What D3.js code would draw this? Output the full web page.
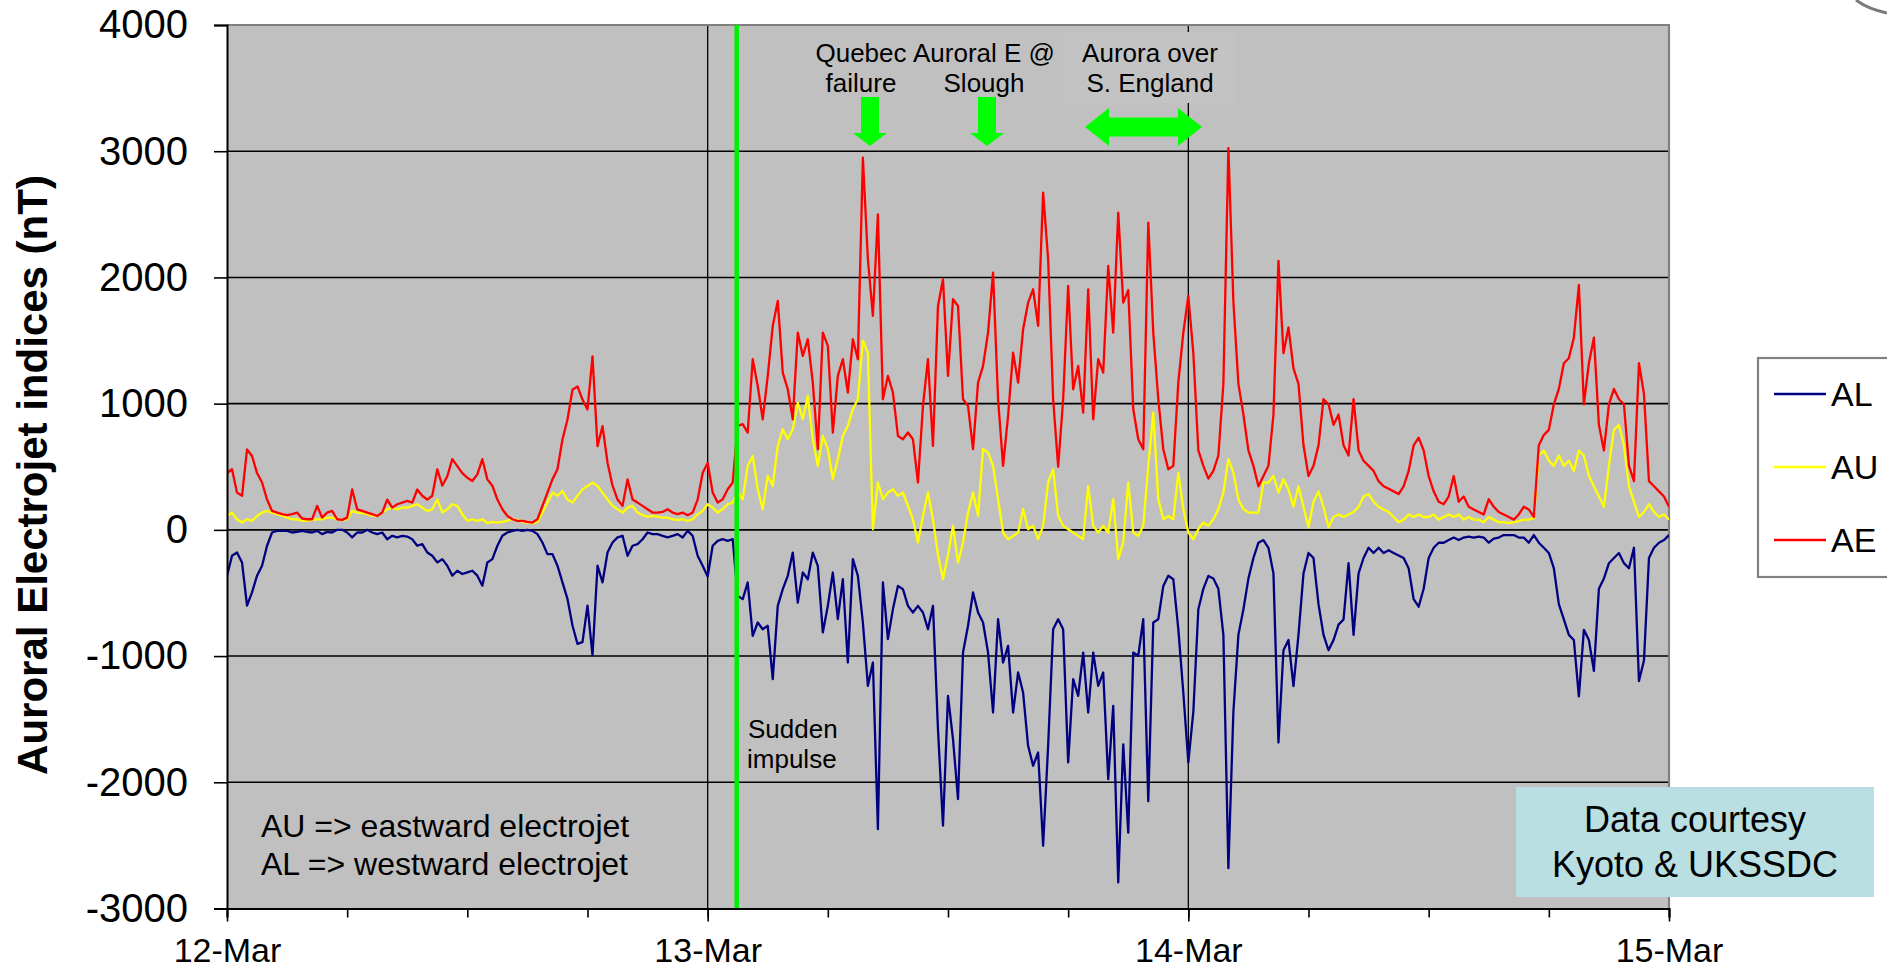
<!DOCTYPE html>
<html>
<head>
<meta charset="utf-8">
<script src="https://cdn.jsdelivr.net/npm/d3@7"></script>
<style>
  html, body { margin: 0; padding: 0; background: #ffffff; }
  svg { display: block; }
  text { font-family: "Liberation Sans", Arial, Helvetica, sans-serif; fill: #000; }
</style>
</head>
<body>
<svg id="chart" width="1887" height="970"></svg>
<script>
// ---------------- DATA (15-minute samples from 12-Mar 00:00 UT to 15-Mar 00:00 UT) ----------------
const startUTC = Date.UTC(1989, 2, 12, 0, 0);
const stepMinutes = 15;

const AE = [
  // 12-Mar
  450, 480, 295, 270, 637, 585, 450, 375,
  240, 150, 137, 124, 116, 124, 137, 90,
  84, 84, 190, 97, 137, 150, 84, 79,
  97, 320, 163, 150, 137, 124, 110, 137,
  240, 176, 203, 216, 229, 216, 320, 270,
  240, 270, 480, 350, 425, 560, 505, 450,
  413, 387, 440, 560, 400, 350, 240, 163,
  110, 84, 71, 71, 63, 58, 84, 190,
  295, 400, 480, 716, 874, 1110, 1137, 1032,
  953, 1374, 663, 821, 532, 350, 240, 190,
  400, 240, 216, 190, 163, 137, 137, 142,
  163, 137, 124, 137, 116, 137, 240, 450,
  // 13-Mar
  530, 296, 216, 243, 322, 375, 824, 837,
  771, 1352, 1140, 876, 1220, 1616, 1814, 1246,
  1114, 876, 1563, 1378, 1510, 1167, 639, 1563,
  1457, 771, 1220, 1352, 1088, 1510, 1352, 2949,
  2144, 1695, 2500, 1035, 1220, 1088, 744, 718,
  771, 718, 375, 982, 1352, 665, 1774, 1985,
  1220, 1827, 1774, 1035, 982, 639, 1167, 1299,
  1563, 2038, 1035, 507, 903, 1404, 1167, 1589,
  1800, 1906, 1616, 2672, 2144, 1035, 500, 1035,
  1932, 1114, 1299, 929, 1906, 876, 1352, 1246,
  2091, 1563, 2513, 1800, 1900, 956, 718, 639,
  2434, 1563, 1035, 639, 480, 507, 1167, 1563,
  // 14-Mar
  1853, 1400, 629, 507, 406, 467, 589, 1157,
  3025, 1807, 1157, 914, 629, 507, 345, 426,
  507, 914, 2131, 1400, 1604, 1279, 1157, 670,
  426, 507, 670, 1035, 995, 832, 914, 670,
  589, 1035, 629, 548, 507, 467, 386, 345,
  325, 305, 284, 345, 467, 670, 731, 629,
  426, 305, 223, 203, 264, 426, 223, 264,
  183, 162, 142, 122, 244, 183, 142, 122,
  102, 81, 122, 183, 162, 102, 670, 751,
  792, 995, 1117, 1320, 1360, 1523, 1940, 995,
  1320, 1523, 832, 629, 995, 1117, 1035, 995,
  507, 386, 1320, 1076, 386, 345, 305, 264,
  // 15-Mar 00:00
  183
];

const AU = [
  // 12-Mar
  110, 137, 84, 58, 84, 71, 110, 137,
  150, 137, 124, 110, 97, 84, 84, 71,
  71, 79, 84, 84, 97, 97, 84, 79,
  84, 150, 137, 132, 124, 110, 110, 137,
  163, 176, 163, 176, 176, 190, 203, 176,
  150, 163, 240, 137, 163, 203, 190, 124,
  71, 84, 71, 84, 53, 63, 58, 63,
  74, 84, 79, 63, 58, 53, 63, 137,
  216, 295, 270, 308, 240, 216, 270, 321,
  347, 374, 347, 295, 240, 190, 163, 137,
  176, 190, 137, 116, 105, 110, 105, 97,
  97, 84, 79, 84, 71, 84, 124, 150,
  // 13-Mar
  203, 177, 137, 164, 203, 216, 296, 243,
  507, 586, 322, 164, 428, 348, 665, 797,
  718, 797, 1008, 876, 1061, 718, 507, 744,
  639, 401, 560, 744, 824, 956, 1035, 1500,
  1400, 5, 375, 243, 296, 322, 269, 296,
  190, 84, -100, 111, 296, 84, -200, -390,
  -200, 32, -260, -100, 137, 296, 111, 639,
  612, 507, 243, -21, -74, -48, -21, 164,
  5, 32, -74, 32, 375, 480, 111, 32,
  5, -21, -48, -74, 348, 32, -21, 32,
  -21, 243, -232, -100, 375, -21, -48, 32,
  507, 929, 243, 84, 111, 84, 454, 164,
  // 14-Mar
  -21, -74, 5, 58, 32, 84, 164, 296,
  560, 454, 243, 164, 137, 137, 137, 375,
  375, 428, 296, 401, 322, 183, 345, 183,
  20, 223, 305, 183, 20, 102, 122, 102,
  122, 142, 183, 264, 284, 223, 183, 162,
  142, 102, 61, 81, 122, 102, 122, 102,
  102, 122, 81, 102, 122, 102, 122, 81,
  102, 81, 81, 61, 102, 81, 61, 61,
  53, 61, 69, 81, 81, 93, 589, 629,
  548, 507, 589, 507, 548, 467, 629, 589,
  426, 345, 264, 183, 507, 792, 832, 670,
  345, 223, 102, 142, 203, 142, 102, 122,
  // 15-Mar 00:00
  81
];

const AL = [
  // 12-Mar
  -363, -205, -179, -258, -600, -495, -363, -284,
  -126, -21, -8, -8, -8, -21, -16, -8,
  -16, -21, -8, -34, -16, -21, 0, 0,
  -21, -60, -21, -21, 0, -21, -34, -21,
  -74, -47, -60, -47, -53, -74, -126, -113,
  -179, -205, -258, -232, -284, -363, -324, -350,
  -337, -324, -363, -442, -258, -232, -126, -47,
  -21, -8, 0, -8, 0, -8, -34, -100,
  -192, -192, -284, -416, -547, -758, -903, -890,
  -600, -995, -284, -416, -179, -100, -60, -47,
  -205, -126, -113, -74, -21, -34, -34, -47,
  -60, -47, -34, -60, -8, -47, -205, -284,
  // 13-Mar
  -370, -126, -87, -74, -87, -74, -523, -549,
  -417, -840, -734, -787, -760, -1183, -602, -470,
  -364, -180, -576, -338, -391, -180, -285, -813,
  -602, -338, -708, -391, -1051, -232, -364, -734,
  -1236, -1051, -2371, -417, -866, -628, -444, -470,
  -602, -655, -602, -655, -787, -602, -1579, -2344,
  -1315, -1658, -2133, -972, -760, -496, -655, -734,
  -972, -1447, -708, -1051, -919, -1447, -1130, -1289,
  -1711, -1869, -1764, -2503, -1711, -787, -708, -787,
  -1843, -1183, -1315, -972, -1447, -972, -1236, -1130,
  -1975, -1394, -2793, -1700, -2400, -972, -998, -708,
  -2150, -734, -708, -444, -364, -391, -787, -1289,
  // 14-Mar
  -1843, -1441, -629, -467, -365, -386, -467, -832,
  -2680, -1441, -832, -629, -386, -223, -102, -81,
  -142, -345, -1685, -954, -873, -1238, -832, -345,
  -183, -223, -589, -832, -954, -873, -751, -710,
  -264, -832, -345, -223, -142, -183, -142, -183,
  -162, -183, -203, -223, -304, -548, -609, -467,
  -223, -142, -102, -102, -81, -61, -81, -61,
  -53, -61, -53, -61, -102, -69, -61, -41,
  -41, -41, -61, -61, -102, -41, -102, -142,
  -183, -304, -589, -710, -832, -873, -1320, -792,
  -873, -1117, -467, -386, -264, -223, -183, -264,
  -304, -142, -1198, -1035, -223, -142, -102, -81,
  // 15-Mar 00:00
  -41
];

const seriesNames = ["AL", "AU", "AE"];
const yTickValues = [-3000, -2000, -1000, 0, 1000, 2000, 3000, 4000];
const dayTickLabels = ["12-Mar", "13-Mar", "14-Mar", "15-Mar"];
const suddenImpulseUTC = Date.UTC(1989, 2, 13, 1, 27);

// ---------------- STYLE ----------------
const colors = { AL: "#000080", AU: "#ffff00", AE: "#ff0000" };
const plot = { left: 227, right: 1669, top: 25, bottom: 908.5 };

const svg = d3.select("#chart");

const x = d3.scaleUtc()
  .domain([new Date(startUTC), new Date(startUTC + 3 * 86400000)])
  .range([plot.left, plot.right]);
const y = d3.scaleLinear().domain([-3000, 4000]).range([plot.bottom, plot.top]);

const toPoints = arr => arr.map((v, i) => ({ t: new Date(startUTC + i * stepMinutes * 60000), v }));
const data = { AL: toPoints(AL), AU: toPoints(AU), AE: toPoints(AE) };

// plot background
svg.append("rect")
  .attr("x", plot.left).attr("y", plot.top)
  .attr("width", plot.right - plot.left).attr("height", plot.bottom - plot.top)
  .attr("fill", "#c0c0c0");

// horizontal gridlines
svg.append("g").selectAll("line")
  .data(yTickValues.filter(v => v > -3000 && v < 4000))
  .join("line")
  .attr("x1", plot.left).attr("x2", plot.right)
  .attr("y1", d => y(d)).attr("y2", d => y(d))
  .attr("stroke", "#000").attr("stroke-width", 1.6);

// vertical day gridlines
const dayDates = dayTickLabels.map((_, i) => new Date(startUTC + i * 86400000));
svg.append("g").selectAll("line")
  .data(dayDates.slice(1, 3))
  .join("line")
  .attr("x1", d => x(d)).attr("x2", d => x(d))
  .attr("y1", plot.top).attr("y2", plot.bottom)
  .attr("stroke", "#000").attr("stroke-width", 1.3);

// top & right plot border (gray)
svg.append("path")
  .attr("d", `M${plot.left},${plot.top}H${plot.right}V${plot.bottom}`)
  .attr("fill", "none").attr("stroke", "#808080").attr("stroke-width", 2.2);

// clip
svg.append("clipPath").attr("id", "clip").append("rect")
  .attr("x", plot.left).attr("y", plot.top)
  .attr("width", plot.right - plot.left).attr("height", plot.bottom - plot.top);

const line = d3.line().x(d => x(d.t)).y(d => y(d.v));
const linesG = svg.append("g").attr("clip-path", "url(#clip)");
seriesNames.forEach(name => {
  linesG.append("path")
    .datum(data[name])
    .attr("d", line)
    .attr("fill", "none")
    .attr("stroke", colors[name])
    .attr("stroke-width", 2.3)
    .attr("stroke-linejoin", "round");
});

// Aurora-over box (covers gridline)
svg.append("rect")
  .attr("x", 1065).attr("y", 32).attr("width", 170).attr("height", 71)
  .attr("fill", "#c3c3c3");

// Sudden impulse line
svg.append("line")
  .attr("x1", x(new Date(suddenImpulseUTC))).attr("x2", x(new Date(suddenImpulseUTC)))
  .attr("y1", plot.top).attr("y2", plot.bottom)
  .attr("stroke", "#00ee00").attr("stroke-width", 4.5);

// Y axis
const yAxis = d3.axisLeft(y).tickValues(yTickValues).tickSize(13).tickPadding(26);
const yG = svg.append("g").attr("transform", `translate(${plot.left},0)`).call(yAxis);
yG.select(".domain").attr("stroke", "#000").attr("stroke-width", 2);
yG.selectAll(".tick line").attr("stroke", "#000").attr("stroke-width", 1.6);
yG.selectAll(".tick text")
  .attr("font-size", 40).attr("fill", "#000")
  .attr("font-family", "'Liberation Sans', Arial, sans-serif")
  .text(d => String(d));

// X axis: minor 6-hour ticks and major day ticks
const minorTicks = d3.utcHour.every(6).range(new Date(startUTC), new Date(startUTC + 3 * 86400000 + 1));
const xMinor = d3.axisBottom(x).tickValues(minorTicks).tickSize(9).tickFormat("");
const xMinorG = svg.append("g").attr("transform", `translate(0,${plot.bottom})`).call(xMinor);
xMinorG.selectAll(".tick line").attr("stroke", "#000").attr("stroke-width", 1.6);
xMinorG.select(".domain").attr("stroke", "#000").attr("stroke-width", 2);

const xMajor = d3.axisBottom(x).tickValues(dayDates).tickSize(13)
  .tickFormat((d, i) => dayTickLabels[i]);
const xMajorG = svg.append("g").attr("transform", `translate(0,${plot.bottom})`).call(xMajor);
xMajorG.select(".domain").remove();
xMajorG.selectAll(".tick line").attr("stroke", "#000").attr("stroke-width", 1.6);
xMajorG.selectAll(".tick text")
  .attr("font-size", 34).attr("fill", "#000")
  .attr("font-family", "'Liberation Sans', Arial, sans-serif")
  .attr("y", 962 - plot.bottom).attr("dy", null);

// Y title
svg.append("text")
  .attr("transform", "translate(47,475) rotate(-90)")
  .attr("text-anchor", "middle")
  .attr("font-size", 42).attr("font-weight", "bold")
  .text("Auroral Electrojet indices (nT)");

// Legend
svg.append("rect")
  .attr("x", 1758).attr("y", 358).attr("width", 160).attr("height", 219)
  .attr("fill", "#fff").attr("stroke", "#808080").attr("stroke-width", 2.2);
const legendY = { AL: 394, AU: 467, AE: 540 };
seriesNames.forEach(name => {
  svg.append("line")
    .attr("x1", 1774).attr("x2", 1826)
    .attr("y1", legendY[name]).attr("y2", legendY[name])
    .attr("stroke", colors[name]).attr("stroke-width", 2.5);
  svg.append("text")
    .attr("x", 1831).attr("y", legendY[name]).attr("dy", "0.36em")
    .attr("font-size", 34).text(name);
});

// Annotations (top)
const topNotes = [
  { lines: ["Quebec", "failure"], cx: 861 },
  { lines: ["Auroral E @", "Slough"], cx: 984 },
  { lines: ["Aurora over", "S. England"], cx: 1150 }
];
topNotes.forEach(n => {
  n.lines.forEach((s, i) => {
    svg.append("text")
      .attr("x", n.cx).attr("y", 62 + i * 30)
      .attr("text-anchor", "middle").attr("font-size", 26).text(s);
  });
});

// Green arrows
const green = "#00ff00";
function downArrow(cx) {
  const p = d3.path();
  p.moveTo(cx - 9, 97); p.lineTo(cx + 9, 97); p.lineTo(cx + 9, 133);
  p.lineTo(cx + 17, 133); p.lineTo(cx, 146); p.lineTo(cx - 17, 133);
  p.lineTo(cx - 9, 133); p.closePath();
  svg.append("path").attr("d", p.toString()).attr("fill", green);
}
downArrow(870);
downArrow(987);
(function () {
  const l = 1085, r = 1202, cy = 127, hl = 24, hh = 19, sh = 9.5;
  const p = d3.path();
  p.moveTo(l, cy); p.lineTo(l + hl, cy - hh); p.lineTo(l + hl, cy - sh);
  p.lineTo(r - hl, cy - sh); p.lineTo(r - hl, cy - hh); p.lineTo(r, cy);
  p.lineTo(r - hl, cy + hh); p.lineTo(r - hl, cy + sh); p.lineTo(l + hl, cy + sh);
  p.lineTo(l + hl, cy + hh); p.closePath();
  svg.append("path").attr("d", p.toString()).attr("fill", green);
})();

// Sudden impulse label
svg.append("text").attr("x", 748).attr("y", 738).attr("font-size", 26).text("Sudden");
svg.append("text").attr("x", 747).attr("y", 768).attr("font-size", 26).text("impulse");

// Electrojet notes
svg.append("text").attr("x", 261).attr("y", 837).attr("font-size", 32).text("AU => eastward electrojet");
svg.append("text").attr("x", 261).attr("y", 875).attr("font-size", 32).text("AL => westward electrojet");

// Data courtesy box
svg.append("rect").attr("x", 1516).attr("y", 787).attr("width", 358).attr("height", 110).attr("fill", "#b9dfe3");
svg.append("text").attr("x", 1695).attr("y", 832).attr("text-anchor", "middle").attr("font-size", 36).text("Data courtesy");
svg.append("text").attr("x", 1695).attr("y", 877).attr("text-anchor", "middle").attr("font-size", 36).text("Kyoto & UKSSDC");

// top-right corner artifact (slide edge)
svg.append("path")
  .attr("d", "M1856,0 Q1868,9 1887,13")
  .attr("fill", "none").attr("stroke", "#7a7a7a").attr("stroke-width", 3);
</script>
</body>
</html>
